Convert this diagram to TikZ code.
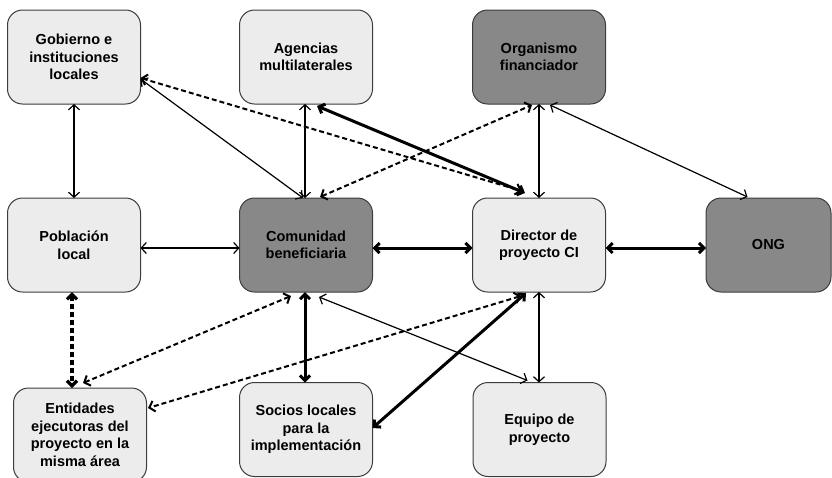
\documentclass[tikz,border=0pt]{standalone}
\usepackage{fontspec}
\setmainfont{Liberation Sans}
\usetikzlibrary{arrows.meta}
\definecolor{boxlight}{HTML}{ECECEC}
\definecolor{boxdark}{HTML}{888888}
\definecolor{boxline}{HTML}{3C3C3C}
\begin{document}
\begin{tikzpicture}[x=1pt,y=-1pt,
  actor/.style={draw=boxline, line width=1pt, rounded corners=15pt,
    minimum width=133pt, minimum height=94pt, inner sep=0pt, outer sep=0pt,
    align=center, text=black,
    font=\fontsize{14.5}{17.5}\selectfont\bfseries},
  lightbox/.style={actor, fill=boxlight},
  darkbox/.style={actor, fill=boxdark},
  link/.style={line width=1.2pt, {Straight Barb[length=5pt,width=11pt]}-{Straight Barb[length=5pt,width=11pt]}},
  strong/.style={line width=3pt, {Straight Barb[length=5pt,width=10pt]}-{Straight Barb[length=5pt,width=10pt]}},
  weak/.style={line width=2pt, dash pattern=on 5pt off 3pt,
    {Straight Barb[length=5pt,width=11pt]}-{Straight Barb[length=5pt,width=11pt]}},
  weakstrong/.style={line width=3.2pt, dash pattern=on 5pt off 3pt,
    {Straight Barb[length=5pt,width=10pt]}-{Straight Barb[length=5pt,width=10pt]}},
]
\useasboundingbox (0,0) rectangle (832,477);

% stakeholders
\node[lightbox] (gob) at (74,57) {Gobierno e\\instituciones\\locales};
\node[lightbox] (age) at (306,57) {Agencias\\multilaterales};
\node[darkbox]  (org) at (539,57) {Organismo\\financiador};
\node[lightbox] (pob) at (74,245) {Población\\local};
\node[darkbox]  (com) at (306,245) {Comunidad\\beneficiaria};
\node[lightbox] (dir) at (539,245) {Director de\\proyecto CI};
\node[darkbox, minimum width=125pt] (ong) at (768.5,245) {ONG};
\node[lightbox] (ent) at (80,435) {Entidades\\ejecutoras del\\proyecto en la\\misma área};
\node[lightbox] (soc) at (306,429.5) {Socios locales\\para la\\implementación};
\node[lightbox] (equ) at (539.5,429.5) {Equipo de\\proyecto};

% thin relations
\draw[link] (gob.south) -- (pob.north);
\draw[link] ([yshift=-22pt]gob.east) -- ([xshift=-3pt]com.north);
\draw[link] ([xshift=-1pt]age.south) -- ([xshift=-1pt]com.north);
\draw[link] (org.south) -- (dir.north);
\draw[link] ([xshift=11pt,yshift=-1pt]org.south) -- ([xshift=-21pt,yshift=1pt]ong.north);
\draw[link] ([yshift=-3pt]pob.east) -- ([yshift=-3pt]com.west);
\draw[link] ([xshift=13pt,yshift=-5pt]com.south) -- ([xshift=-12pt,yshift=2pt]equ.north);
\draw[link] (dir.south) -- ([xshift=-0.5pt]equ.north);

% weak (dashed) relations
\draw[weak] ([yshift=-21pt]gob.east) -- ([xshift=-17pt,yshift=7pt]dir.north);
\draw[weak] ([xshift=14pt,yshift=1pt]com.north) -- ([xshift=-7pt,yshift=-1pt]org.south);
\draw[weak] ([xshift=-15pt,yshift=-4pt]com.south) -- ([xshift=3pt,yshift=5pt]ent.north);
\draw[weak] ([xshift=-18pt,yshift=-4pt]dir.south) -- ([xshift=1.5pt,yshift=27pt]ent.east);
\draw[weakstrong] ([xshift=-2pt]pob.south) -- ([xshift=-8pt]ent.north);

% strong relations
\draw[strong] ([xshift=11pt,yshift=-2pt]age.south) -- ([xshift=-14pt,yshift=5pt]dir.north);
\draw[strong] ([yshift=-3pt]com.east) -- ([yshift=-3pt]dir.west);
\draw[strong] ([yshift=-3pt]dir.east) -- ([yshift=-3pt]ong.west);
\draw[strong] ([xshift=-1pt]com.south) -- ([xshift=-1pt]soc.north);
\draw[strong] ([xshift=-13pt,yshift=-1pt]dir.south) -- ([yshift=1.5pt]soc.east);
\end{tikzpicture}
\end{document}
